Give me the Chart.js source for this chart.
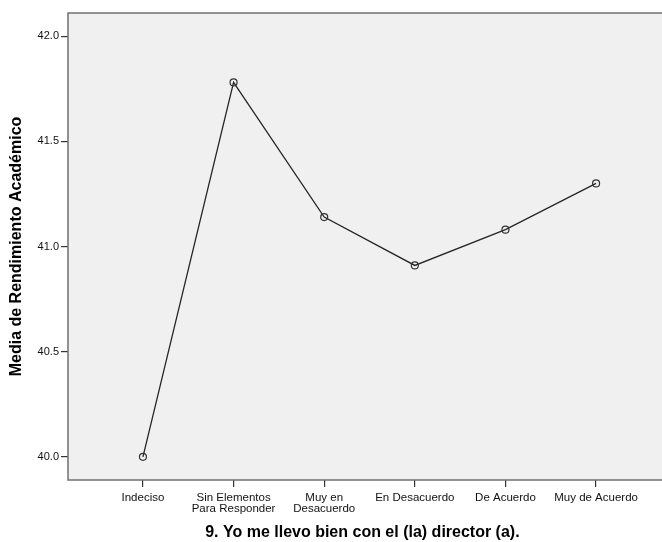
<!DOCTYPE html>
<html>
<head>
<meta charset="utf-8">
<script src="https://cdn.jsdelivr.net/npm/chart.js@4.4.0/dist/chart.umd.min.js"></script>
<style>
  html, body { margin: 0; padding: 0; background: #fff; overflow: hidden; }
  #wrap { width: 662px; height: 542px; position: relative; }
</style>
</head>
<body>
<div id="wrap"><canvas id="chart"></canvas></div>
<script>
// categorias del eje X (multi-linea donde el original corta)
const categories = [
  'Indeciso',
  ['Sin Elementos', 'Para Responder'],
  ['Muy en', 'Desacuerdo'],
  'En Desacuerdo',
  'De Acuerdo',
  'Muy de Acuerdo'
];
// medias
const means = [40.00, 41.78, 41.14, 40.91, 41.08, 41.30];
const yTicks = [40.0, 40.5, 41.0, 41.5, 42.0];

const FONT = "'Liberation Sans', Arial, sans-serif";

// fondo gris del area de trazado + marco
const plotBg = {
  id: 'plotBg',
  beforeDraw(chart) {
    const { ctx, chartArea: a } = chart;
    ctx.save();
    ctx.fillStyle = '#f0f0f0';
    ctx.fillRect(a.left, a.top, a.right - a.left + 20, a.bottom - a.top);
    ctx.restore();
  },
  afterDraw(chart) {
    const { ctx, chartArea: a } = chart;
    ctx.save();
    ctx.strokeStyle = '#707070';
    ctx.lineWidth = 1.5;
    ctx.strokeRect(a.left, a.top, a.right - a.left + 20, a.bottom - a.top);
    ctx.restore();
  }
};

new Chart(document.getElementById('chart'), {
  type: 'line',
  data: {
    datasets: [{
      data: means.map((v, i) => ({ x: i, y: v })),
      borderColor: '#262626',
      borderWidth: 1.3,
      pointRadius: 3.5,
      pointBorderWidth: 1.2,
      pointBorderColor: '#333',
      pointBackgroundColor: 'rgba(0,0,0,0)',
      tension: 0
    }]
  },
  options: {
    responsive: true,
    maintainAspectRatio: false,
    animation: false,
    layout: { padding: { top: 13, right: 0, bottom: 0, left: 0 } },
    plugins: {
      legend: { display: false },
      tooltip: { enabled: false }
    },
    scales: {
      x: {
        type: 'linear',
        min: -0.827,
        max: 5.67,
        afterBuildTicks: s => { s.ticks = categories.map((c, i) => ({ value: i })); },
        afterFit: s => { s.height = 62; },
        ticks: {
          autoSkip: false,
          maxRotation: 0,
          padding: 5,
          color: '#111',
          font: { family: FONT, size: 11.5, lineHeight: 0.96 },
          callback: v => categories[v]
        },
        grid: { drawOnChartArea: false, drawTicks: true, tickLength: 7, color: '#333', lineWidth: 1.2 },
        border: { display: false },
        title: {
          display: true,
          text: '9. Yo me llevo bien con el (la) director (a).',
          color: '#000',
          font: { family: FONT, size: 16, weight: 'bold' },
          padding: { top: 0, bottom: 0 }
        }
      },
      y: {
        min: 39.89,
        max: 42.11,
        afterBuildTicks: s => { s.ticks = yTicks.map(v => ({ value: v })); },
        afterFit: s => { s.width = 68; },
        ticks: {
          padding: 2,
          color: '#111',
          font: { family: FONT, size: 11 },
          callback: v => v.toFixed(1)
        },
        grid: { drawOnChartArea: false, drawTicks: true, tickLength: 7, color: '#333', lineWidth: 1.2 },
        border: { display: false },
        title: {
          display: true,
          text: 'Media de Rendimiento Académico',
          color: '#000',
          font: { family: FONT, size: 16, weight: 'bold' },
          padding: { top: 7, bottom: 0 }
        }
      }
    }
  },
  plugins: [plotBg]
});
</script>
</body>
</html>
